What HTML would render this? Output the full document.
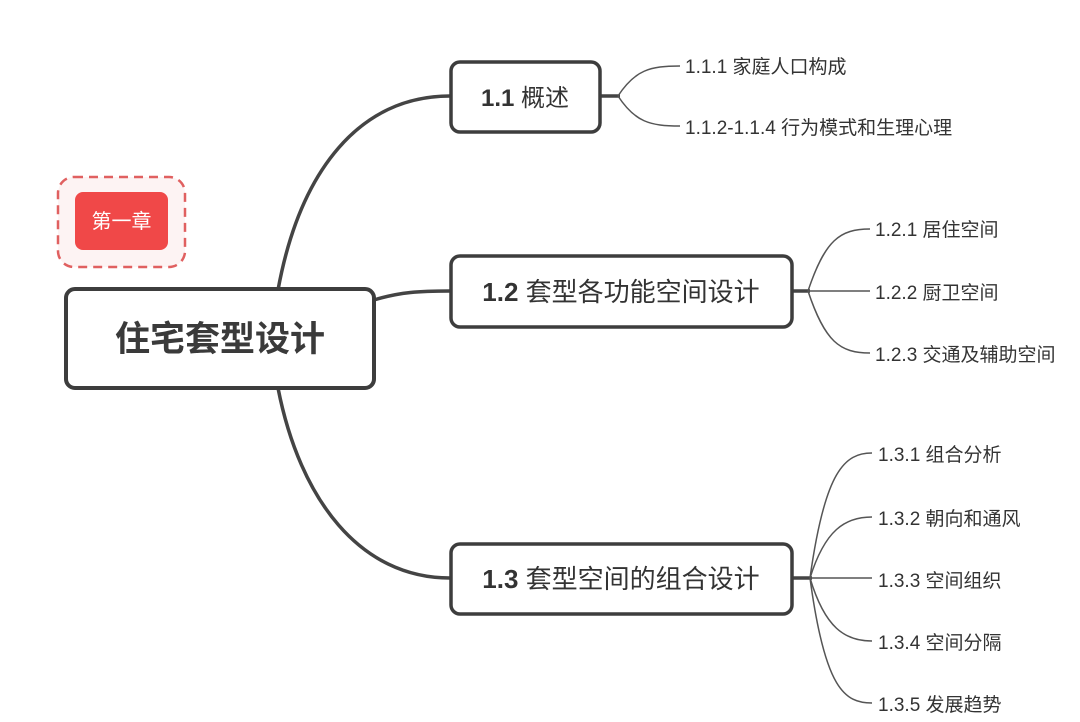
<!DOCTYPE html>
<html><head><meta charset="utf-8"><style>
body{margin:0;background:#fff;}
svg{display:block;}
text{font-family:"Liberation Sans","Noto Sans CJK SC",sans-serif;fill:#333;}
</style></head><body>
<svg width="1080" height="722" viewBox="0 0 1080 722">
<g fill="none" stroke="#444" stroke-width="3.5">
<path d="M278 290 C300 170 360 96 450 96"/>
<path d="M374 300 C400 292 420 291 450 291"/>
<path d="M278 388 C300 500 360 578 450 578"/>
<path d="M600 96 L620 96"/>
<path d="M792 291 L810 291"/>
<path d="M792 578 L812 578"/>
</g>
<g fill="none" stroke="#555" stroke-width="1.5">
<path d="M618 96 C635 70 650 66 680 66"/>
<path d="M618 96 C635 122 650 126 680 126"/>
<path d="M808 291 C825 240 840 229 870 229"/>
<path d="M808 291 L870 291"/>
<path d="M808 291 C825 342 840 353 870 353"/>
<path d="M810 578 C825 470 845 453 872 453"/>
<path d="M810 578 C825 530 845 517 872 517"/>
<path d="M810 578 L872 578"/>
<path d="M810 578 C825 628 845 641 872 641"/>
<path d="M810 578 C825 690 845 703 872 703"/>
</g>
<rect x="58" y="177" width="127" height="90" rx="16" fill="#fdf3f3" stroke="#e06060" stroke-width="2.5" stroke-dasharray="9,6"/>
<rect x="75" y="192" width="93" height="58" rx="8" fill="#f04848"/>
<text x="121.5" y="228" font-size="20" text-anchor="middle" style="fill:#fff">第一章</text>
<rect x="66" y="289" width="308" height="99" rx="9" fill="#fff" stroke="#3d3d3d" stroke-width="4"/>
<text x="220" y="351" font-size="35" font-weight="bold" text-anchor="middle" style="fill:#3a3a3a">住宅套型设计</text>
<rect x="451" y="62" width="149" height="70" rx="9" fill="#fff" stroke="#3d3d3d" stroke-width="3.5"/>
<text x="525" y="106" font-size="24" text-anchor="middle"><tspan font-weight="bold">1.1</tspan> 概述</text>
<rect x="451" y="256" width="341" height="71" rx="9" fill="#fff" stroke="#3d3d3d" stroke-width="3.5"/>
<text x="621" y="301" font-size="26" text-anchor="middle"><tspan font-weight="bold">1.2</tspan> 套型各功能空间设计</text>
<rect x="451" y="544" width="341" height="70" rx="9" fill="#fff" stroke="#3d3d3d" stroke-width="3.5"/>
<text x="621" y="588" font-size="26" text-anchor="middle"><tspan font-weight="bold">1.3</tspan> 套型空间的组合设计</text>
<g font-size="19">
<text x="685" y="73">1.1.1 家庭人口构成</text>
<text x="685" y="134">1.1.2-1.1.4 行为模式和生理心理</text>
<text x="875" y="236">1.2.1 居住空间</text>
<text x="875" y="299">1.2.2 厨卫空间</text>
<text x="875" y="361">1.2.3 交通及辅助空间</text>
<text x="878" y="461">1.3.1 组合分析</text>
<text x="878" y="525">1.3.2 朝向和通风</text>
<text x="878" y="587">1.3.3 空间组织</text>
<text x="878" y="649">1.3.4 空间分隔</text>
<text x="878" y="711">1.3.5 发展趋势</text>
</g>
</svg>
</body></html>
